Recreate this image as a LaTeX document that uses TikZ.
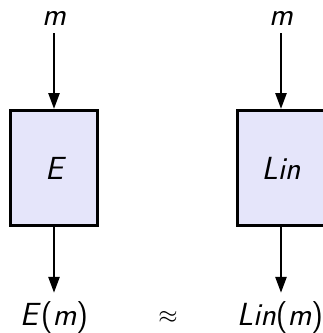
\documentclass[tikz,border=0pt]{standalone}
\usetikzlibrary{arrows.meta}
\definecolor{boxfill}{RGB}{229,229,250}
\begin{document}
\begin{tikzpicture}[x=1pt,y=-1pt,
  blk/.style={draw=black, line width=3pt, fill=boxfill, minimum width=87pt, minimum height=115pt, inner sep=0pt, font=\fontsize{32}{38}\selectfont\sffamily\itshape},
  lbl/.style={inner xsep=0pt, font=\fontsize{32}{38}\selectfont\sffamily},
  arr/.style={line width=2.5pt, -{Triangle[length=16pt,width=11pt]}}]
\useasboundingbox (0,0) rectangle (323,333);
\node[blk] (e) at (54,168) {E};
\node[blk] (l) at (281,168) {Lin};
\node[lbl, anchor=base, inner ysep=8pt] (m1) at (54,25) {\itshape m};
\node[lbl, anchor=base, inner ysep=8pt] (m2) at (281,25) {\itshape m};
\node[lbl, anchor=base, inner ysep=8pt] (em) at (54,325) {\textit{E}(\textit{m})};
\node[lbl, anchor=base, inner ysep=8pt] (lm) at (280,325) {\textit{Lin}(\textit{m})};
\node[inner sep=0pt, font=\fontsize{26}{30}\selectfont] (ap) at (168,317) {$\approx$};
\draw[arr] (m1.south) -- (e.north);
\draw[arr] (m2.south) -- (l.north);
\draw[arr] (e.south) -- (em.north -| e.south);
\draw[arr] (l.south) -- (lm.north -| l.south);
\end{tikzpicture}
\end{document}
